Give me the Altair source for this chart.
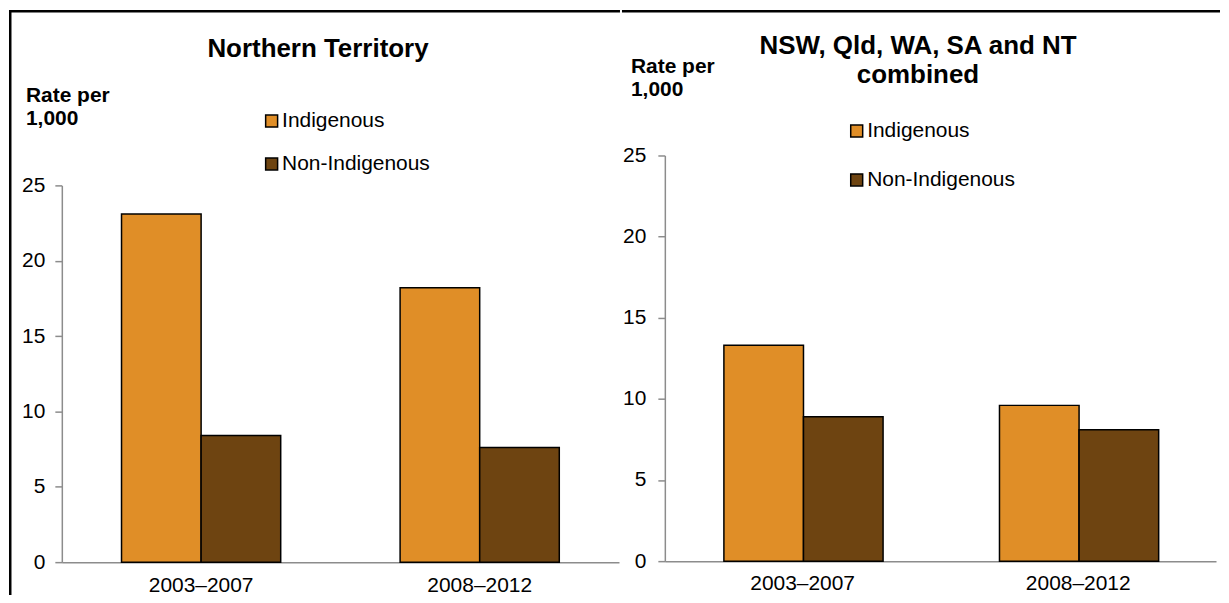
import altair as alt
import pandas as pd

# ---- data ----
periods = ["2003–2007", "2008–2012"]
groups = ["Indigenous", "Non-Indigenous"]
nt_indigenous = [23.1, 18.2]
nt_non_indigenous = [8.4, 7.6]
comb_indigenous = [13.3, 9.6]
comb_non_indigenous = [8.9, 8.1]
y_ticks = [0, 5, 10, 15, 20, 25]
colors = ["#E08E27", "#6E4411"]
title_nt = ["Northern Territory"]
title_comb = ["NSW, Qld, WA, SA and NT", "combined"]
y_title = ["Rate per", "1,000"]

FONT = "Liberation Sans"
AXIS_GREY = "#8C8C8C"
TICK_FS = 21


def make_df(ind, non):
    rows = []
    for i, p in enumerate(periods):
        rows.append({"period": p, "group": groups[0], "rate": ind[i]})
        rows.append({"period": p, "group": groups[1], "rate": non[i]})
    return pd.DataFrame(rows)


one = pd.DataFrame({"k": [0]})


def frame_rect(x0, x1, y0, y1):
    return alt.Chart(one).mark_rect(fill="black", strokeWidth=0).encode(
        x=alt.value(x0), x2=alt.value(x1), y=alt.value(y0), y2=alt.value(y1))


def panel(df, w, h, yrange, box, title_lines, title_xy, ylab_xy,
          leg_xy, leg_rowpad, xlab_pad, ylab_pad):
    bx0, bx1, by0, by1 = box
    bars = alt.Chart(df).mark_bar(stroke="black", strokeWidth=1.5).encode(
        x=alt.X("period:N", sort=periods,
                scale=alt.Scale(paddingInner=0.4286, paddingOuter=0.2143),
                axis=alt.Axis(title=None, labelAngle=0, ticks=False,
                              labelPadding=xlab_pad, domainColor=AXIS_GREY,
                              domainWidth=1.5)),
        xOffset=alt.XOffset("group:N", sort=groups,
                            scale=alt.Scale(paddingInner=0, paddingOuter=0)),
        y=alt.Y("rate:Q",
                scale=alt.Scale(domain=[0, 25], nice=False, range=yrange),
                axis=alt.Axis(title=None, values=y_ticks, grid=False,
                              tickSize=7, tickWidth=1.5, tickColor=AXIS_GREY,
                              domainColor=AXIS_GREY, domainWidth=1.5,
                              labelPadding=ylab_pad)),
        color=alt.Color("group:N", sort=groups,
                        scale=alt.Scale(domain=groups, range=colors),
                        legend=alt.Legend(title=None, orient="none",
                                          legendX=leg_xy[0], legendY=leg_xy[1],
                                          symbolType="square", symbolSize=144,
                                          symbolStrokeColor="black",
                                          symbolStrokeWidth=1.5,
                                          labelFont=FONT, labelFontSize=21,
                                          labelColor="black", labelOffset=0,
                                          rowPadding=leg_rowpad, padding=0)),
    )
    # invisible box fixing the panel's bounds
    box_mark = alt.Chart(one).mark_rect(opacity=0, fill="white").encode(
        x=alt.value(bx0), x2=alt.value(bx1), y=alt.value(by0), y2=alt.value(by1))
    title = alt.Chart(one).mark_text(
        text=title_lines, font=FONT, fontSize=26, fontWeight="bold",
        align="center", baseline="middle", lineHeight=29, color="black"
    ).encode(x=alt.value(title_xy[0]), y=alt.value(title_xy[1]))
    ylab = alt.Chart(one).mark_text(
        text=y_title, font=FONT, fontSize=21, fontWeight="bold",
        align="left", baseline="middle", lineHeight=23, color="black"
    ).encode(x=alt.value(ylab_xy[0]), y=alt.value(ylab_xy[1]))
    top_line = frame_rect(bx0, bx1, by0, by0 + 2.5)
    return [box_mark, bars, title, ylab, top_line]


# both panels share the plot origin row (page y = 154)
left_layers = panel(make_df(nt_indigenous, nt_non_indigenous), 559, 408,
                    [408, 30], (-53, 560, -146, 441), title_nt, (257, -107),
                    (-36, -60), (200, -45), 21, 12, 10)
left_line = frame_rect(-53, -50.5, -146, 441)
left = alt.layer(*left_layers, left_line).properties(width=559, height=408)

right_layers = panel(make_df(comb_indigenous, comb_non_indigenous), 553, 407,
                     [407, 0], (-43, 557, -146, 441), title_comb, (254, -110),
                     (-34, -89), (182, -35), 27, 11, 12)
right = alt.layer(*right_layers).properties(width=553, height=407)

chart = alt.hconcat(left, right, spacing=0).resolve_scale(
    color="independent", x="independent", y="independent"
).resolve_legend(color="independent").properties(
    padding=0, background="white"
).configure_view(stroke="transparent").configure_axis(
    labelFont=FONT, labelFontSize=TICK_FS, labelColor="black"
)

chart.save("out.html", embed_options={"renderer": "svg", "actions": False})
